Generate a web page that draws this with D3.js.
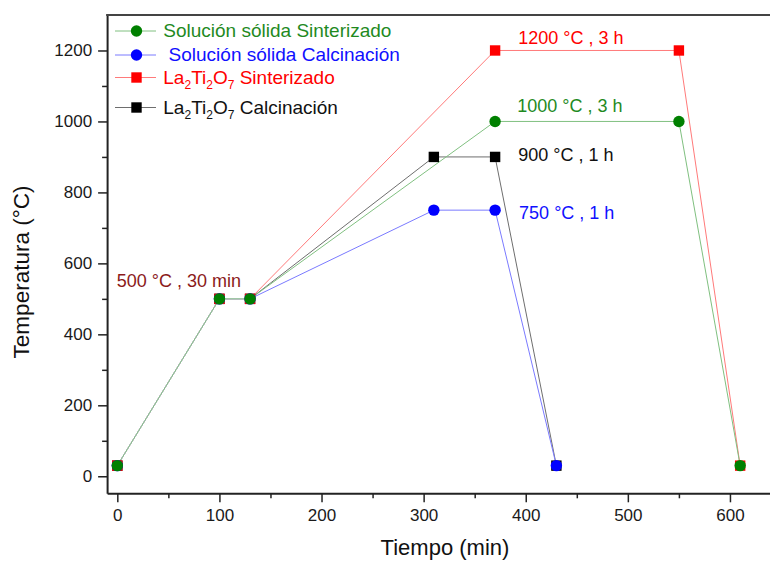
<!DOCTYPE html>
<html lang="es">
<head>
<meta charset="UTF-8">
<title>Temperatura vs Tiempo</title>
<style>
    body { margin: 0; background: #fff; }
    svg { display: block; font-family: "Liberation Sans", Arial, sans-serif; }
    .axis path, .axis line { stroke: #222; }
    .axis text { font-size: 17px; fill: #1a1a1a; }
    .serie { fill: none; stroke-width: 1; }
</style>
</head>
<body>
<div id="chart"></div>
<script src="https://d3js.org/d3.v7.min.js"></script>
<script>
    // Tiempo (min) de cada etapa del tratamiento
    const tiempoSinterizado = [0, 100, 130, 370, 550, 610];
    const tiempoCalcinacion = [0, 100, 130, 310, 370, 430];

    // Temperatura (°C) de cada serie
    const tempSolSinterizado = [30, 500, 500, 1000, 1000, 30];
    const tempSolCalcinacion = [30, 500, 500, 750, 750, 30];
    const tempLaSinterizado = [30, 500, 500, 1200, 1200, 30];
    const tempLaCalcinacion = [30, 500, 500, 900, 900, 30];

    const xTicks = [0, 100, 200, 300, 400, 500, 600];
    const yTicks = [0, 200, 400, 600, 800, 1000, 1200];
    const xMinor = [50, 150, 250, 350, 450, 550];
    const yMinor = [100, 300, 500, 700, 900, 1100];

    // orden de dibujo: la última queda encima
    const series = [
        { name: "La2Ti2O7 Calcinación", color: "#000000", lineColor: "#6e6e6e", shape: "square", t: tiempoCalcinacion, v: tempLaCalcinacion },
        { name: "La2Ti2O7 Sinterizado", color: "#ff0000", lineColor: "#ff7a7a", shape: "square", t: tiempoSinterizado, v: tempLaSinterizado },
        { name: " Solución sólida Calcinación", color: "#0000ff", lineColor: "#7a7aff", shape: "circle", t: tiempoCalcinacion, v: tempSolCalcinacion },
        { name: "Solución sólida Sinterizado", color: "#008000", lineColor: "#80c080", shape: "circle", t: tiempoSinterizado, v: tempSolSinterizado }
    ];
    const legendOrder = [3, 2, 1, 0];
    const textColor = { "#000000": "#111111", "#ff0000": "#ff0000", "#0000ff": "#1010ff", "#008000": "#1f8a1f" };

    const W = 770, H = 561;
    const mLeft = 107.1, mTop = 15, mBottom = 493.3, mRight = 770.8;

    const svg = d3.select("#chart").append("svg")
        .attr("width", W)
        .attr("height", H);

    const x = d3.scaleLinear().domain([-10, 640]).range([mLeft, mRight]);
    const y = d3.scaleLinear().domain([-48, 1300]).range([mBottom, mTop]);
    const fmt = d3.format("d");

    // marcas menores
    svg.append("g")
        .attr("class", "axis")
        .attr("transform", "translate(0," + mBottom + ")")
        .call(d3.axisBottom(x).tickValues(xMinor).tickSize(5).tickSizeOuter(0).tickFormat(""))
        .call(g => g.select(".domain").remove())
        .call(g => g.selectAll(".tick line").attr("stroke-width", 1.5));

    svg.append("g")
        .attr("class", "axis")
        .attr("transform", "translate(" + mLeft + ",0)")
        .call(d3.axisLeft(y).tickValues(yMinor).tickSize(5).tickSizeOuter(0).tickFormat(""))
        .call(g => g.select(".domain").remove())
        .call(g => g.selectAll(".tick line").attr("stroke-width", 1.5));

    // marcas mayores
    svg.append("g")
        .attr("class", "axis")
        .attr("transform", "translate(0," + mBottom + ")")
        .call(d3.axisBottom(x).tickValues(xTicks).tickSize(9).tickPadding(7).tickSizeOuter(0).tickFormat(fmt))
        .call(g => g.select(".domain").attr("stroke-width", 2))
        .call(g => g.selectAll(".tick line").attr("stroke-width", 1.5));

    svg.append("g")
        .attr("class", "axis")
        .attr("transform", "translate(" + mLeft + ",0)")
        .call(d3.axisLeft(y).tickValues(yTicks).tickSize(9).tickPadding(6).tickSizeOuter(0).tickFormat(fmt))
        .call(g => g.select(".domain").attr("stroke-width", 2))
        .call(g => g.selectAll(".tick line").attr("stroke-width", 1.5));

    svg.append("line")
        .attr("x1", mLeft - 1).attr("x2", W)
        .attr("y1", mTop).attr("y2", mTop)
        .attr("stroke", "#444").attr("stroke-width", 2);

    svg.append("text")
        .attr("x", 445).attr("y", 555)
        .attr("text-anchor", "middle")
        .style("font-size", "22px").attr("fill", "#111")
        .text("Tiempo (min)");

    svg.append("text")
        .attr("transform", "translate(29,272) rotate(-90)")
        .attr("text-anchor", "middle")
        .style("font-size", "22.5px").attr("fill", "#111")
        .text("Temperatura (°C)");

    function marker(g, shape, color, cx, cy) {
        if (shape === "circle") {
            g.append("circle").attr("cx", cx).attr("cy", cy).attr("r", 5.7).attr("fill", color);
        } else {
            g.append("rect").attr("x", cx - 5.2).attr("y", cy - 5.2)
                .attr("width", 10.4).attr("height", 10.4).attr("fill", color);
        }
    }

    const line = d3.line().x(d => x(d[0])).y(d => y(d[1]));

    series.forEach((s, i) => {
        const pts = s.t.map((t, j) => [t, s.v[j]]);
        if (i === series.length - 1) {
            // la serie superior tapa a las que comparten tramo
            svg.append("path")
                .attr("class", "serie")
                .attr("stroke", "#fff")
                .attr("stroke-width", 2.4)
                .attr("d", line(pts.slice(0, 3)));
        }
        svg.append("path")
            .attr("class", "serie")
            .attr("stroke", s.lineColor)
            .attr("d", line(pts));
    });
    series.forEach(s => {
        const g = svg.append("g");
        s.t.forEach((t, i) => marker(g, s.shape, s.color, x(t), y(s.v[i])));
    });

    // leyenda
    function labelText(sel, name) {
        if (name.startsWith("La2Ti2O7")) {
            const rest = name.replace("La2Ti2O7", "");
            sel.append("tspan").text("La");
            sel.append("tspan").attr("dy", 5).style("font-size", "12px").text("2");
            sel.append("tspan").attr("dy", -5).text("Ti");
            sel.append("tspan").attr("dy", 5).style("font-size", "12px").text("2");
            sel.append("tspan").attr("dy", -5).text("O");
            sel.append("tspan").attr("dy", 5).style("font-size", "12px").text("7");
            sel.append("tspan").attr("dy", -5).text(rest);
        } else {
            sel.text(name);
        }
    }

    const legendY = [31, 55, 77.5, 107.5];
    legendOrder.forEach((idx, i) => {
        const s = series[idx];
        const ly = legendY[i];
        svg.append("line")
            .attr("x1", 115).attr("x2", 156)
            .attr("y1", ly).attr("y2", ly)
            .attr("stroke", s.lineColor);
        marker(svg, s.shape, s.color, 136.5, ly);
        const t = svg.append("text")
            .attr("x", 163.3).attr("y", ly + 6.3)
            .attr("xml:space", "preserve")
            .style("font-size", "19px")
            .attr("fill", textColor[s.color]);
        labelText(t, s.name);
    });

    // anotaciones de cada meseta
    const notes = [
        { text: "1200 °C , 3 h", color: "#ff0000", t: 370, v: 1200, dx: 23.2, dy: -6.7 },
        { text: "1000 °C , 3 h", color: "#1f8a1f", t: 370, v: 1000, dx: 22.2, dy: -9 },
        { text: "900 °C , 1 h", color: "#111111", t: 370, v: 900, dx: 23.2, dy: 4.4 },
        { text: "750 °C , 1 h", color: "#1010ff", t: 370, v: 750, dx: 24, dy: 8.9 },
        { text: "500 °C , 30 min", color: "#8b1a1a", t: 0, v: 500, dx: -0.6, dy: -11.5 }
    ];
    notes.forEach(n => {
        svg.append("text")
            .attr("x", x(n.t) + n.dx)
            .attr("y", y(n.v) + n.dy)
            .style("font-size", "18px")
            .attr("fill", n.color)
            .text(n.text);
    });
</script>
</body>
</html>
